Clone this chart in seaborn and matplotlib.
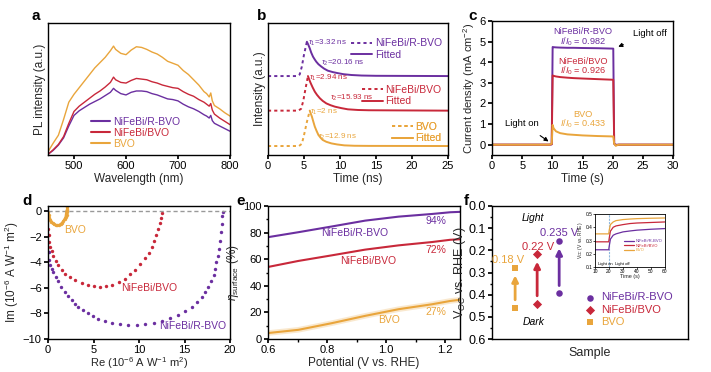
import matplotlib
matplotlib.use('Agg')
import matplotlib.pyplot as plt
import seaborn as sns
from matplotlib.ticker import MultipleLocator

PURPLE = '#6b2fa0'
RED = '#c8283a'
ORANGE = '#e9a53c'
NAMES = ['NiFeBi/R-BVO', 'NiFeBi/BVO', 'BVO']
COLORS = [PURPLE, RED, ORANGE]

# ---- a: PL spectra (a.u., 0-100 of the axis height)
pl_wl = [450, 460, 470, 480, 490, 500, 510, 520, 530, 540, 550, 560, 570, 576, 580, 590, 600, 610, 620, 630,
         640, 650, 660, 670, 680, 690, 700, 710, 720, 730, 740, 750, 755, 760, 763, 766, 770, 780, 790, 800]
pl_bvo = [2.5, 9, 15, 27, 40, 46, 51, 56, 61, 66, 70, 74, 79, 82.5, 80, 77, 76, 79.5, 82, 81.5,
          80, 78, 76.5, 74, 71, 69.5, 68, 64, 61, 57, 53, 48, 46.5, 44, 47, 41, 37.5, 35, 32, 29.5]
pl_nfb = [0.5, 4, 8, 14, 24, 33, 37, 40, 43, 46, 48.5, 51.5, 55, 59, 57, 55, 54.5, 56.5, 58, 57.5,
          57, 55.5, 54.5, 53, 52, 51, 50.5, 48, 46, 44.5, 42, 40, 38.5, 37, 39, 34, 31, 28, 25.5, 23]
pl_rbvo = [0.5, 3.5, 7.5, 13, 22, 30, 33.5, 36, 38.5, 40.5, 42.5, 45, 47.5, 50.5, 49, 46.5, 45.5, 47.5, 48.5, 48.5,
           48, 46.5, 45.5, 44, 42.5, 42, 41, 38.5, 36.5, 35, 33, 30.5, 29.5, 28, 30, 26, 24, 22, 20, 18]

# ---- b: TRPL (offset traces, a.u.)
raw_t = {'NiFeBi/R-BVO': [0, 4.0, 4.4, 4.7, 5.0, 5.4],
         'NiFeBi/BVO': [0, 4.2, 4.6, 4.9, 5.2, 5.55],
         'BVO': [0, 4.3, 4.7, 5.0, 5.4, 5.8]}
raw_i = {'NiFeBi/R-BVO': [59.8, 59.8, 61, 67, 76, 85.8],
         'NiFeBi/BVO': [33.6, 33.6, 35, 41, 50, 59.8],
         'BVO': [6.8, 6.8, 8.5, 15, 25, 33.6]}
fit_t = {'NiFeBi/R-BVO': [5.4, 5.6, 5.8, 6.0, 6.25, 6.5, 6.7, 7.0, 7.4, 7.8, 8.3, 9.0, 9.7, 10.5, 11.6, 13, 15, 25],
         'NiFeBi/BVO': [5.55, 5.7, 5.9, 6.2, 6.5, 6.8, 7.2, 7.6, 8.1, 8.7, 9.3, 10.2, 11.1, 12.5, 14, 25],
         'BVO': [5.8, 5.95, 6.1, 6.3, 6.5, 6.75, 7.0, 7.3, 7.6, 8.1, 8.8, 9.6, 10.6, 12, 14, 25]}
fit_i = {'NiFeBi/R-BVO': [85.8, 83.5, 80.8, 77.6, 74.5, 72.3, 70.7, 68.8, 67, 65.4, 63.9, 62.8, 62, 61.2, 60.6, 60.2, 60, 59.8],
         'NiFeBi/BVO': [59.8, 57.5, 54.8, 51.2, 48, 45.6, 43, 41, 39.1, 37.7, 36.6, 35.5, 34.6, 34.1, 33.9, 33.6],
         'BVO': [33.6, 31.2, 29, 25.2, 21.5, 18.2, 15.2, 13.1, 11.4, 10, 8.8, 8, 7.3, 7.0, 6.9, 6.8]}
tau_labels = {'NiFeBi/R-BVO': (r'$\tau_1$=3.32 ns', r'$\tau_2$=20.16 ns'),
              'NiFeBi/BVO': (r'$\tau_1$=2.94 ns', r'$\tau_2$=15.93 ns'),
              'BVO': (r'$\tau_1$=2 ns', r'$\tau_2$=12.9 ns')}

# ---- c: transient photocurrent
it_t = [0, 9.5, 9.9, 10.05, 10.2, 10.6, 11.3, 12.5, 13.5, 15, 17.5, 20.1, 20.25, 20.5, 21, 30]
it_j = {'NiFeBi/R-BVO': [0, 0, 0.02, 4.74, 4.73, 4.72, 4.71, 4.7, 4.7, 4.69, 4.68, 4.66, 0.05, 0, 0, 0],
        'NiFeBi/BVO': [0, 0, 0.02, 3.36, 3.34, 3.31, 3.28, 3.25, 3.23, 3.21, 3.18, 3.15, 0.05, -0.03, 0, 0],
        'BVO': [0, 0, 0.05, 0.96, 0.8, 0.65, 0.56, 0.5, 0.48, 0.45, 0.42, 0.40, 0.05, -0.05, 0, 0]}
ratio = {'NiFeBi/R-BVO': '0.982', 'NiFeBi/BVO': '0.926', 'BVO': '0.433'}

# ---- d: IMPS Nyquist
nyq_re = {'NiFeBi/R-BVO': [0.03, 0.08, 0.15, 0.25, 0.4, 0.6, 0.85, 1.1, 1.45, 1.9, 2.25, 2.6, 2.95, 3.3, 3.85,
                           4.4, 4.95, 5.5, 6.25, 7.0, 7.9, 8.8, 9.75, 10.7, 11.6, 12.5, 13.4, 14.3, 15.05, 15.8,
                           16.35, 16.9, 17.25, 17.6, 17.9, 18.2, 18.35, 18.5, 18.65, 18.8, 18.9, 19.0, 19.08, 19.15, 19.2],
          'NiFeBi/BVO': [0.03, 0.08, 0.15, 0.25, 0.4, 0.6, 0.85, 1.1, 1.5, 1.9, 2.45, 3.0, 3.7, 4.4, 5.05, 5.7,
                         6.35, 7.0, 7.75, 8.5, 9.05, 9.6, 10.15, 10.7, 11.05, 11.4, 11.65, 11.9, 12.1, 12.3, 12.4, 12.5],
          'BVO': [0.03, 0.08, 0.15, 0.25, 0.38, 0.52, 0.68, 0.85, 1.02, 1.2, 1.38, 1.55, 1.7, 1.83, 1.95,
                  2.04, 2.1, 2.12, 2.1, 2.04]}
nyq_im = {'NiFeBi/R-BVO': [-2.4, -3.2, -3.8, -4.2, -4.5, -4.75, -5.15, -5.5, -5.9, -6.3, -6.65, -6.95, -7.25, -7.5, -7.75,
                           -8.0, -8.2, -8.4, -8.6, -8.75, -8.85, -8.9, -8.9, -8.85, -8.75, -8.6, -8.35, -8.1, -7.8, -7.5,
                           -7.1, -6.7, -6.3, -5.9, -5.45, -5.0, -4.5, -4.0, -3.5, -2.95, -2.3, -1.65, -1.0, -0.36, -0.05],
          'NiFeBi/BVO': [-1.4, -1.9, -2.4, -2.8, -3.15, -3.5, -3.9, -4.25, -4.6, -4.9, -5.15, -5.4, -5.6, -5.8, -5.88,
                         -5.9, -5.85, -5.75, -5.55, -5.3, -4.95, -4.6, -4.15, -3.7, -3.25, -2.8, -2.35, -1.9, -1.4,
                         -0.9, -0.5, -0.15],
          'BVO': [-0.1, -0.3, -0.5, -0.67, -0.82, -0.95, -1.04, -1.1, -1.12, -1.1, -1.03, -0.92, -0.78, -0.62,
                  -0.45, -0.27, -0.08, 0.08, 0.2, 0.3]}

# ---- e: surface charge transfer efficiency
eta_v = [0.601, 0.703, 0.816, 0.929, 1.042, 1.155, 1.217, 1.25]
eta = {'NiFeBi/R-BVO': [76.6, 80.3, 84.6, 89, 92, 94, 95.3, 95.6],
       'NiFeBi/BVO': [54.2, 58.7, 62.9, 67.2, 70.4, 72.9, 74.6, 75],
       'BVO': [4.5, 6.9, 11.9, 17.4, 22.4, 26.1, 28.6, 29.5]}
eta_end = {'NiFeBi/R-BVO': '94%', 'NiFeBi/BVO': '72%', 'BVO': '27%'}

# ---- f: open-circuit potential
voc_pos = {'BVO': 1, 'NiFeBi/BVO': 2, 'NiFeBi/R-BVO': 3}
voc_dark = {'BVO': 0.458, 'NiFeBi/BVO': 0.44, 'NiFeBi/R-BVO': 0.394}
voc_light = {'BVO': 0.278, 'NiFeBi/BVO': 0.216, 'NiFeBi/R-BVO': 0.156}
voc_shift = {'BVO': '0.18 V', 'NiFeBi/BVO': '0.22 V', 'NiFeBi/R-BVO': '0.235 V'}
voc_marker = {'NiFeBi/R-BVO': 'o', 'NiFeBi/BVO': 'D', 'BVO': 's'}
voc_ticks = [0.0, 0.1, 0.2, 0.3, 0.4, 0.5, 0.6]
inset_t = [10, 19.8, 20.2, 21, 23, 25, 30, 35, 40, 50, 60]
inset_v = {'NiFeBi/R-BVO': [0.23, 0.23, 0.26, 0.31, 0.34, 0.35, 0.365, 0.372, 0.378, 0.385, 0.39],
           'NiFeBi/BVO': [0.29, 0.29, 0.32, 0.37, 0.40, 0.41, 0.42, 0.428, 0.432, 0.436, 0.44],
           'BVO': [0.35, 0.35, 0.38, 0.42, 0.44, 0.45, 0.458, 0.462, 0.465, 0.468, 0.47]}

sns.set_theme(style='ticks')
plt.rcParams['font.family'] = ['Liberation Sans', 'DejaVu Sans']
plt.rcParams.update({
    'mathtext.fontset': 'custom', 'mathtext.rm': 'Liberation Sans',
    'mathtext.it': 'Liberation Sans:italic', 'mathtext.bf': 'Liberation Sans:bold',
    'axes.edgecolor': 'black', 'axes.linewidth': 1.0, 'axes.labelsize': 8.5,
    'xtick.labelsize': 8, 'ytick.labelsize': 8, 'xtick.color': 'black', 'ytick.color': 'black',
    'xtick.major.size': 3, 'ytick.major.size': 3, 'xtick.minor.size': 1.8, 'ytick.minor.size': 1.8,
    'xtick.major.pad': 1.5, 'ytick.major.pad': 1.5, 'axes.labelpad': 1.5, 'text.color': 'black',
})

fig = plt.figure(figsize=(7.11, 3.72), dpi=100)


def box(x, y, w, h):
    return fig.add_axes([x / 711, 1 - (y + h) / 372, w / 711, h / 372])


ax_a = box(48, 23, 182, 132)
ax_b = box(268, 23, 180, 132)
ax_c = box(492, 21, 181, 134)
ax_d = box(48, 206, 182, 133)
ax_e = box(268, 206, 192, 133)
ax_f = box(492, 206, 196, 133)

# a
for name, vals, c in zip(NAMES, [pl_rbvo, pl_nfb, pl_bvo], COLORS):
    sns.lineplot(x=pl_wl, y=vals, ax=ax_a, color=c, lw=1.0, label=name)
ax_a.set_xlim(450, 800)
ax_a.set_ylim(0, 100)
ax_a.set_xticks([500, 600, 700, 800])
ax_a.set_yticks([])
ax_a.set_xlabel('Wavelength (nm)')
ax_a.set_ylabel('PL intensity (a.u.)')
leg = ax_a.legend(frameon=False, loc='lower left', bbox_to_anchor=(0.2, 0.0), fontsize=7.5,
                  handlelength=1.9, labelspacing=0.1, handletextpad=0.3, borderpad=0.1)
for t, c in zip(leg.get_texts(), COLORS):
    t.set_color(c)
for ln in leg.get_lines():
    ln.set_linewidth(1.5)

# b
leg_top = {'NiFeBi/R-BVO': 0.93, 'NiFeBi/BVO': 0.58, 'BVO': 0.30}
for name, c in zip(NAMES, COLORS):
    sns.lineplot(x=raw_t[name], y=raw_i[name], ax=ax_b, color=c, lw=1.4, linestyle=(0, (1.6, 1.6)))
    raw_line = ax_b.lines[-1]
    sns.lineplot(x=fit_t[name], y=fit_i[name], ax=ax_b, color=c, lw=1.4)
    fit_line = ax_b.lines[-1]
    t1, t2 = tau_labels[name]
    ax_b.text(fit_t[name][0] + 0.1, fit_i[name][0] - 1.2, t1, color=c, fontsize=5.8, va='center')
    ax_b.text(fit_t[name][0] + {'NiFeBi/R-BVO': 2.0, 'NiFeBi/BVO': 3.0, 'BVO': 1.15}[name],
              fit_i[name][-1] + {'NiFeBi/R-BVO': 9.7, 'NiFeBi/BVO': 9.8, 'BVO': 7.1}[name],
              t2, color=c, fontsize=5.8, va='center')
    lg = ax_b.legend([raw_line, fit_line], [name, 'Fitted'], frameon=False, loc='upper right',
                     bbox_to_anchor=(1.0, leg_top[name]), fontsize=7.5, handlelength=2.0,
                     labelspacing=0.15, handletextpad=0.3, borderpad=0.1, alignment='right')
    for t in lg.get_texts():
        t.set_color(c)
    ax_b.add_artist(lg)
ax_b.set_xlim(0, 25)
ax_b.set_ylim(0, 100)
ax_b.set_xticks(range(0, 26, 5))
ax_b.set_yticks([])
ax_b.set_xlabel('Time (ns)')
ax_b.set_ylabel('Intensity (a.u.)')

# c
for name, c in zip(NAMES, COLORS):
    sns.lineplot(x=it_t, y=it_j[name], ax=ax_c, color=c, lw=1.4)
label_y = {'NiFeBi/R-BVO': 5.47, 'NiFeBi/BVO': 4.05, 'BVO': 1.48}
for name, c in zip(NAMES, COLORS):
    ax_c.text(15.1, label_y[name], name, color=c, fontsize=6.6, ha='center', va='center')
    ax_c.text(15.1, label_y[name] - 0.47, r'$I/I_0$ = ' + ratio[name], color=c, fontsize=6.6,
              ha='center', va='center')
ax_c.annotate('Light off', xy=(20.5, 4.7), xytext=(26.1, 5.39), fontsize=6.8, ha='center', va='center',
              arrowprops=dict(arrowstyle='-|>', color='black', lw=0.8, mutation_scale=6, shrinkA=6))
ax_c.annotate('Light on', xy=(9.75, 0.08), xytext=(5.0, 1.05), fontsize=6.8, ha='center', va='center',
              arrowprops=dict(arrowstyle='-|>', color='black', lw=0.8, mutation_scale=6, shrinkA=6))
ax_c.set_xlim(0, 30)
ax_c.set_ylim(-0.5, 6)
ax_c.set_xticks(range(0, 31, 5))
ax_c.set_yticks(range(0, 7))
ax_c.set_xlabel('Time (s)')
ax_c.set_ylabel('Current density (mA cm$^{-2}$)', fontsize=8)

# d
ax_d.axhline(0, color='#999999', lw=1.0, linestyle=(0, (3, 2)))
for name, c in zip(NAMES, COLORS):
    if name == 'BVO':
        sns.lineplot(x=nyq_re[name], y=nyq_im[name], ax=ax_d, color=c, lw=1.8, sort=False)
    sns.scatterplot(x=nyq_re[name], y=nyq_im[name], ax=ax_d, color=c, s=6, linewidth=0)
ax_d.text(3.0, -1.5, 'BVO', color=ORANGE, fontsize=7.5, ha='center', va='center')
ax_d.text(11.1, -6.0, 'NiFeBi/BVO', color=RED, fontsize=7.5, ha='center', va='center')
ax_d.text(15.9, -9.0, 'NiFeBi/R-BVO', color=PURPLE, fontsize=7.5, ha='center', va='center')
ax_d.set_xlim(0, 20)
ax_d.set_ylim(-10, 0.4)
ax_d.set_xticks(range(0, 21, 5))
ax_d.set_yticks(range(-10, 1, 2))
ax_d.set_xlabel('Re (10$^{-6}$ A W$^{-1}$ m$^{2}$)', fontsize=8, labelpad=0)
ax_d.set_ylabel('Im (10$^{-6}$ A W$^{-1}$ m$^{2}$)')

# e
sns.lineplot(x=eta_v, y=eta['BVO'], ax=ax_e, color=ORANGE, lw=4, alpha=0.25)
for name, c in zip(NAMES, COLORS):
    sns.lineplot(x=eta_v, y=eta[name], ax=ax_e, color=c, lw=1.5)
ax_e.text(0.895, 79.8, 'NiFeBi/R-BVO', color=PURPLE, fontsize=7.5, ha='center', va='center')
ax_e.text(0.94, 59, 'NiFeBi/BVO', color=RED, fontsize=7.5, ha='center', va='center')
ax_e.text(1.01, 14, 'BVO', color=ORANGE, fontsize=7.5, ha='center', va='center')
for name, c, yy in zip(NAMES, COLORS, [89, 67, 20.5]):
    ax_e.text(1.17, yy, eta_end[name], color=c, fontsize=7.5, ha='center', va='center')
ax_e.set_xlim(0.6, 1.25)
ax_e.set_ylim(0, 100)
ax_e.set_xticks([0.6, 0.8, 1.0, 1.2])
ax_e.xaxis.set_minor_locator(MultipleLocator(0.1))
ax_e.yaxis.set_minor_locator(MultipleLocator(10))
ax_e.set_xlabel('Potential (V vs. RHE)')
ax_e.set_ylabel(r'$\eta_{\mathrm{surface}}$ (%)')

# f
for name in ['BVO', 'NiFeBi/BVO', 'NiFeBi/R-BVO']:
    c = COLORS[NAMES.index(name)]
    x = voc_pos[name]
    ax_f.annotate('', xy=(x, voc_light[name] + 0.035), xytext=(x, voc_dark[name] - 0.035),
                  arrowprops=dict(arrowstyle='-|>', color=c, lw=2.0, mutation_scale=9,
                                  shrinkA=0, shrinkB=0))
for name, c in zip(NAMES, COLORS):
    sns.scatterplot(x=[voc_pos[name]] * 2, y=[voc_dark[name], voc_light[name]], ax=ax_f, color=c,
                    marker=voc_marker[name], s=22, linewidth=0, label=name)
text_xy = {'BVO': (0.7, 0.244), 'NiFeBi/BVO': (2.05, 0.184), 'NiFeBi/R-BVO': (3.0, 0.12)}
for name, c in zip(NAMES, COLORS):
    ax_f.text(*text_xy[name], voc_shift[name], color=c, fontsize=8, ha='center', va='center')
ax_f.text(1.8, 0.052, 'Light', fontsize=7.5, style='italic', ha='center', va='center')
ax_f.text(1.86, 0.524, 'Dark', fontsize=7.5, style='italic', ha='center', va='center')
lg = ax_f.legend(frameon=False, loc='upper left', bbox_to_anchor=(0.43, 0.4), fontsize=8,
                 labelspacing=0.2, handletextpad=0.4, borderpad=0.1, handlelength=1.2)
for t, c in zip(lg.get_texts(), COLORS):
    t.set_color(c)
ax_f.set_xlim(-0.05, 8.85)
ax_f.set_ylim(0.6, 0.0)
ax_f.set_xticks([])
ax_f.set_yticks(voc_ticks)
ax_f.set_yticklabels([f'{v:.1f}' for v in voc_ticks])
ax_f.yaxis.set_minor_locator(MultipleLocator(0.05))
ax_f.tick_params(axis='y', labelsize=9)
ax_f.set_xlabel('Sample', fontsize=9, labelpad=6)
ax_f.set_ylabel('V$_{OC}$ vs. RHE (V)', fontsize=9, labelpad=0.5)

# f inset
ax_in = box(595, 214, 70, 53)
ax_in.axvline(20, color='#8fb8de', lw=0.8, linestyle=(0, (2, 1)))
for name, c in zip(NAMES, COLORS):
    sns.lineplot(x=inset_t, y=inset_v[name], ax=ax_in, color=c, lw=0.9, label=name)
ax_in.set_xlim(10, 60)
ax_in.set_ylim(0.1, 0.5)
ax_in.set_xticks(range(10, 61, 10))
ax_in.set_yticks([0.1, 0.2, 0.3, 0.4, 0.5])
ax_in.tick_params(labelsize=3.5, length=1.2, pad=0.5, width=0.5)
for sp in ax_in.spines.values():
    sp.set_linewidth(0.6)
ax_in.set_xlabel('Time (s)', fontsize=4, labelpad=0)
ax_in.set_ylabel('V$_{OC}$ (V vs. RHE)', fontsize=3.5, labelpad=0.5)
ax_in.text(12, 0.125, 'Light on', fontsize=3, va='center')
ax_in.text(24, 0.125, 'Light off', fontsize=3, va='center')
il = ax_in.legend(frameon=False, loc='center right', bbox_to_anchor=(1.0, 0.4), fontsize=3,
                  handlelength=2.5, labelspacing=0.1, borderpad=0.1, handletextpad=0.3)
for t, c in zip(il.get_texts(), COLORS):
    t.set_color(c)

# panel letters
for letter, px, py in [('a', 31, 23), ('b', 257, 23), ('c', 468, 23),
                       ('d', 22, 208), ('e', 236, 208), ('f', 464, 208)]:
    fig.text(px / 711, 1 - py / 372, letter, fontsize=11, fontweight='bold', va='bottom', ha='left')

fig.savefig('out.png', dpi=100)
